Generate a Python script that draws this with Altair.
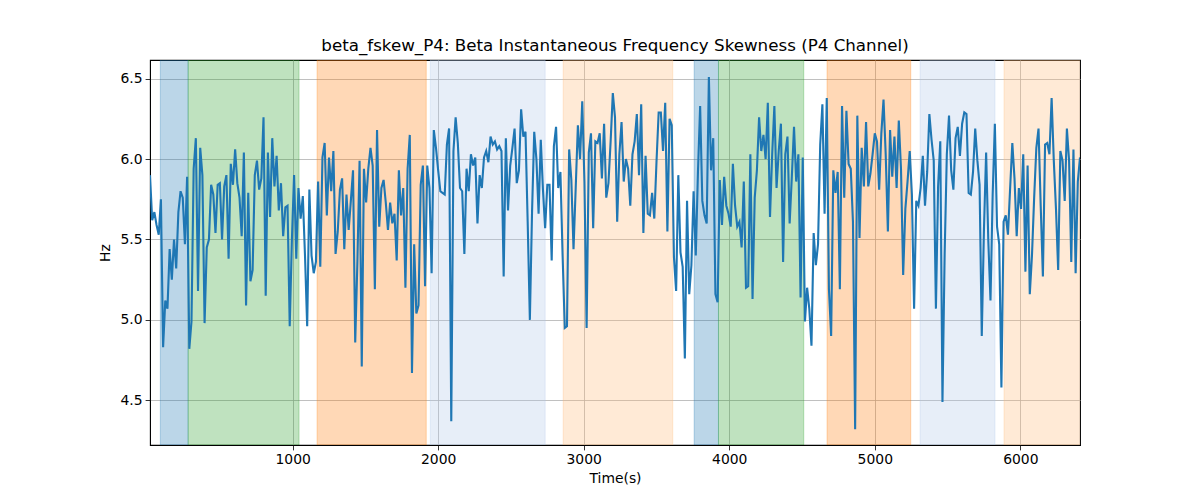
import altair as alt
import pandas as pd

# Beta instantaneous frequency skewness (Hz), sampled every 15 s
values = [
    # 0 .. ~1050 s
    5.90, 5.62, 5.67, 5.59, 5.53, 5.75, 4.83, 5.12, 5.07, 5.44,
    5.25, 5.50, 5.32, 5.67, 5.80, 5.76, 5.47, 5.89, 4.82, 4.99,
    5.94, 6.13, 5.18, 6.07, 5.90, 4.98, 5.45, 5.50, 5.84, 5.78,
    5.54, 5.84, 5.85, 5.50, 5.83, 5.90, 5.38, 5.97, 5.84, 6.06,
    5.85, 5.76, 5.52, 6.04, 5.09, 5.79, 5.24, 5.31, 5.90, 5.99,
    5.81, 5.88, 6.26, 5.15, 6.04, 5.64, 6.13, 5.83, 6.02, 5.68,
    5.85, 5.52, 5.70, 5.71, 4.96, 5.50, 5.90, 5.38, 5.82, 5.63,
    5.77,
    # ~1070 .. ~2100 s
    5.40, 4.96, 5.81, 5.40, 5.29, 5.36, 5.86, 5.33, 6.01, 6.10,
    5.65, 6.01, 5.80, 6.05, 5.41, 5.55, 5.81, 5.88, 5.44, 5.78,
    5.56, 5.74, 5.93, 4.86, 5.36, 5.99, 4.71, 5.94, 5.73, 5.94,
    6.07, 5.96, 5.19, 6.18, 5.58, 5.82, 5.87, 5.73, 5.56, 5.73,
    5.60, 5.66, 5.37, 5.93, 5.65, 5.82, 5.20, 5.94, 6.15, 4.67,
    5.47, 5.04, 5.09, 5.84, 5.96, 5.21, 5.96, 5.82, 5.29, 6.18,
    6.07, 5.93, 5.80, 5.79, 5.78, 6.09, 6.19, 4.37,
    # ~2105 .. ~3140 s
    6.05, 6.26, 6.10, 5.82, 5.80, 5.41, 5.94, 5.80, 6.03, 5.96,
    6.01, 5.60, 5.90, 5.82, 6.01, 6.05, 5.98, 6.14, 6.09, 6.11,
    6.06, 6.08, 6.05, 5.27, 6.13, 5.68, 5.96, 6.07, 6.19, 5.85,
    5.93, 6.31, 6.14, 6.17, 5.61, 5.00, 5.67, 6.17, 6.00, 5.66,
    6.12, 5.81, 5.57, 5.84, 5.84, 5.37, 6.08, 6.20, 5.82, 5.92,
    5.40, 4.95, 4.96, 6.06, 5.87, 5.44, 5.82, 6.21, 6.00, 6.36,
    5.86, 4.95, 6.04, 6.16, 5.57, 6.11, 6.10, 6.16, 5.88, 6.22,
    # ~3155 .. ~4160 s
    5.76, 5.85, 6.11, 6.41, 6.26, 5.61, 6.03, 6.23, 5.86, 6.00,
    5.94, 5.71, 6.03, 6.11, 6.28, 5.90, 6.34, 5.54, 6.02, 5.66,
    5.65, 5.79, 5.63, 5.98, 6.29, 6.29, 6.05, 6.35, 5.55, 6.25,
    6.21, 5.39, 5.18, 5.90, 5.42, 5.33, 4.76, 5.74, 5.16, 5.34,
    5.80, 5.40, 5.92, 6.33, 5.74, 5.65, 5.60, 6.51, 5.93, 6.13,
    5.16, 5.11, 5.87, 5.59, 5.89, 5.71, 5.66, 5.58, 5.97, 5.71,
    5.58, 5.61, 5.45, 5.86, 5.20, 5.21, 6.03, 5.13,
    # ~4175 .. ~5195 s
    5.76, 5.93, 6.26, 6.05, 6.15, 6.00, 6.35, 5.64, 6.03, 6.33,
    5.82, 6.05, 6.22, 5.36, 6.03, 6.14, 5.60, 5.89, 6.20, 5.86,
    6.03, 5.14, 6.01, 4.99, 5.20, 5.07, 4.84, 5.54, 5.34, 5.47,
    6.09, 6.34, 5.66, 6.38, 5.19, 4.90, 5.93, 5.79, 5.92, 5.19,
    6.33, 5.76, 6.30, 5.97, 5.94, 5.61, 4.32, 6.27, 5.51, 6.07,
    5.83, 6.23, 5.83, 5.91, 6.03, 6.16, 6.11, 5.81, 6.16, 6.37,
    6.03, 5.55, 6.18, 5.89, 6.14, 5.82, 6.24, 5.94, 5.28,
    # ~5210 .. end
    5.69, 5.86, 6.05, 5.78, 5.07, 5.74, 5.71, 5.82, 6.02, 5.71,
    5.92, 6.28, 6.12, 5.99, 5.07, 5.83, 6.11, 4.49, 5.41, 6.03,
    6.27, 5.93, 5.81, 6.13, 6.20, 6.02, 6.22, 6.29, 6.28, 5.79,
    5.78, 5.92, 6.19, 5.99, 5.84, 4.90, 5.56, 6.04, 5.49, 5.12,
    5.78, 6.22, 5.58, 5.47, 4.58, 5.61, 5.65, 5.53, 5.82, 6.10,
    5.88, 5.52, 5.82, 5.69, 6.03, 5.30, 5.96, 5.16, 5.40, 5.76,
    6.07, 6.19, 5.71, 5.27, 6.09, 6.10, 6.03, 6.38, 5.99, 5.69,
    5.31, 6.05, 5.99, 5.74, 6.19, 5.99, 5.36, 6.06, 5.29, 5.86,
    6.01,
]
t_start = 20
t_step = 15
times = [t_start + t_step * i for i in range(len(values))]

# Shaded segments
band_start = [91, 282, 1168, 1946, 2859, 3759, 3926, 4672, 5311, 5888]
band_end = [282, 1044, 1918, 2735, 3612, 3926, 4512, 5247, 5826, 6420]
band_color = ["#1f77b4", "#2ca02c", "#ff7f0e", "#aec7e8", "#ffbb78",
              "#1f77b4", "#2ca02c", "#ff7f0e", "#aec7e8", "#ffbb78"]

x_ticks = [1000, 2000, 3000, 4000, 5000, 6000]
y_ticks = [4.5, 5.0, 5.5, 6.0, 6.5]
x_domain = [times[0], times[-1]]
y_domain = [4.222, 6.616]

df = pd.DataFrame({"t": times, "v": values})
bands_df = pd.DataFrame({"start": band_start, "end": band_end, "color": band_color})

x_scale = alt.Scale(domain=x_domain, nice=False, zero=False)
y_scale = alt.Scale(domain=y_domain, nice=False, zero=False)
x_axis = alt.Axis(values=x_ticks, format="d", title="Time(s)")
y_axis = alt.Axis(values=y_ticks, format=".1f", title="Hz")

bands = alt.Chart(bands_df).mark_rect(
    fillOpacity=0.3, strokeOpacity=0.3, strokeWidth=1, clip=True
).encode(
    x=alt.X("start:Q", scale=x_scale, axis=x_axis),
    x2="end:Q",
    color=alt.Color("color:N", scale=None),
    stroke=alt.Stroke("color:N", scale=None),
)

line = alt.Chart(df).mark_line(color="#1f77b4", strokeWidth=2.1, clip=True).encode(
    x=alt.X("t:Q", scale=x_scale, axis=x_axis),
    y=alt.Y("v:Q", scale=y_scale, axis=y_axis),
)

chart = alt.layer(bands, line).properties(
    width=930,
    height=385,
    title=alt.TitleParams(
        "beta_fskew_P4: Beta Instantaneous Frequency Skewness (P4 Channel)",
        font="DejaVu Sans", fontSize=16.7, fontWeight="normal", color="black",
        anchor="middle", offset=5,
    ),
    autosize=alt.AutoSizeParams(type="none"),
    padding={"left": 142, "top": 52, "right": 100, "bottom": 40},
).configure_axis(
    grid=True, gridColor="#b0b0b0", gridWidth=0.8,
    domainColor="black", domainWidth=0.8,
    tickColor="black", tickWidth=0.8, tickSize=4.9,
    labelFont="DejaVu Sans", labelFontSize=13.9, labelColor="black", labelPadding=3,
    titleFont="DejaVu Sans", titleFontSize=13.9, titleFontWeight="normal", titleColor="black",
).configure_axisX(titlePadding=5).configure_axisY(titlePadding=8).configure_view(
    stroke="black", strokeWidth=1.1
)

chart.save("out.html", embed_options={"renderer": "svg", "actions": False})
